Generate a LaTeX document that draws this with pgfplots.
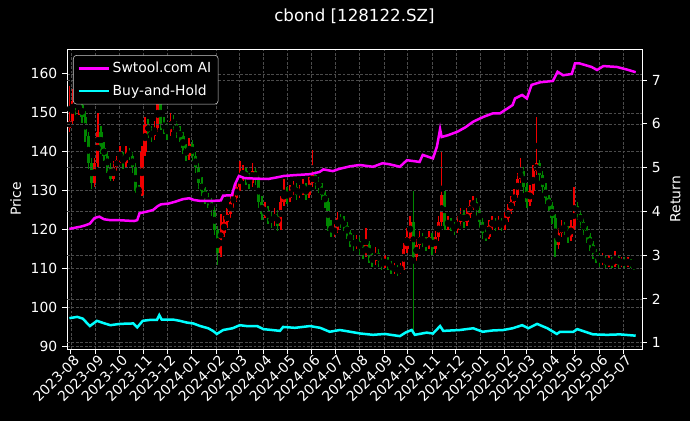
\documentclass[border=0pt]{standalone}
\usepackage{pgfplots}
\usepackage{pgfplotstable}
\pgfplotsset{compat=1.18}
\usepackage{fontspec}
\setmainfont{DejaVu Sans}
\definecolor{upred}{RGB}{240,0,0}
\definecolor{dngreen}{RGB}{0,135,0}
\definecolor{gridc}{RGB}{75,75,75}
\definecolor{mag}{RGB}{255,0,255}
\definecolor{cya}{RGB}{0,255,255}
\pgfplotstableread{
d o h l c
-2 146 157 145 148
2 148 156 147 153
6 153 155 149.5 151
10 151 153.5 149.5 152
14 152 153 147.5 149
18 149 150.5 142.5 144
22 144 145 135.5 137
26 137 138.5 130.5 132
30 132 138.5 131 137
34 137 150 136 145
38 145 146.5 139.5 141
42 141 142.5 137.5 139
46 139 140 134.5 136
50 136 137 132.5 133
54 133 137.5 132.5 136
58 136 139 135 138
62 138 141.5 137 139
66 139 140 135.5 137
70 137 141.5 136 140
74 140 141 138 139
78 139 140 134.5 136
82 136 137 129.5 130
86 130 131.5 129 129
90 129 141.5 128.5 140
94 140 149 139 147
98 147 148.5 143.5 145
102 145 146.5 142.5 144
106 144 148 143 146
110 146 155 145 153
114 153 154 145.5 147
118 147 149 144.5 146
122 146 147.5 143 145
126 145 150 144 148
130 148 149.5 145.5 147
134 147 148 143.5 145
138 145 146.5 142.5 144
142 144 145 139.5 141
146 141 142 137.5 139
150 139 143.5 138 142
154 142 143 137.5 139
158 139 140 134.5 136
162 136 137 130.5 132
166 132 133.5 128.5 130
170 130 131 126.5 128
174 128 129.5 125.5 127
178 127 128 123.5 125
182 125 126 118.5 120
186 120 121 111 114
190 114 124 113 119
194 119 123.5 118 122
198 122 125.5 120.5 124
202 124 128.5 123 127
206 127 130 125.5 128
210 128 132.5 127 131
214 131 137.5 130 134
218 134 136.5 132.5 135
222 135 136 131.5 133
226 133 134.5 130.5 132
230 132 137 131 135
234 135 136 131.5 133
238 133 134 125.5 127
242 127 128.5 122.5 124
246 124 127 123 125
250 125 126 121.5 123
254 123 124.5 120.5 122
258 122 125.5 121 124
262 124 125 119.5 121
266 121 128.5 120 127
270 127 133 126 130
274 130 131 126.5 128
278 128 131.5 127 130
282 130 132.5 129 131
286 131 132 127.5 129
290 129 131.5 128 130
294 130 133 129 131
298 131 132 127.5 129
302 129 133.5 128 132
306 132 140.5 131 134
310 134 135 130.5 132
314 132 133.5 129.5 131
318 131 132 127.5 129
322 129 130 125.5 127
326 127 128 119.5 121
330 121 122.5 118 119
334 119 121.5 118 120
338 120 124.5 119 123
342 123 124 120.5 122
346 122 123.5 119.5 121
350 121 122 117.5 119
354 119 120 115.5 117
358 117 118.5 114.5 116
362 116 118.5 115 117
366 117 118 113.5 115
370 115 116 112.5 114
374 114 120.5 113 116
378 116 117 111.5 113
382 113 114 110.5 112
386 112 115.5 111 114
390 114 115 110.5 112
394 112 113 109.5 111
398 111 113.5 110 112
402 112 113 109.5 111
406 111 112 108.5 110
410 110 111.5 108.5 110
414 110 111 108 109
418 109 111.5 108.5 110
422 110 116.5 109.5 115
426 115 120.5 114 118
430 118 123.5 117 122
434 122 130 94 113
438 113 117.5 112 116
442 116 119.5 115 118
446 118 119 115.5 117
450 117 118 114.5 116
454 116 119.5 115 118
458 118 119 113.5 115
462 115 119.5 114 118
466 118 123.5 117 122
470 122 140 121 129
474 129 130 120 121
478 121 123.5 120 122
482 122 123 119.5 121
486 121 122 118.5 120
490 120 123.5 119 122
494 122 125.5 121 124
498 124 125 120.5 122
502 122 125.5 121 124
506 124 127.5 123 126
510 126 128.5 125 127
514 127 128 123.5 125
518 125 126 120.5 122
522 122 123 117.5 119
526 119 120 117 118
530 118 122.5 117.5 121
534 121 123.5 120 122
538 122 123 119.5 121
542 121 123.5 120 122
546 122 123 119.5 121
550 121 124.5 120 123
554 123 126.5 122 125
558 125 128.5 124 127
562 127 130.5 126 129
566 129 134.5 128 133
570 133 138.5 132 135
574 135 136 129.5 131
578 131 132 125.5 127
582 127 131.5 126 130
586 130 136.5 129 135
590 135 149 134 137
594 137 138 132.5 134
598 134 135 129.5 131
602 131 132 126.5 128
606 128 129 124.5 126
610 126 127 121.5 123
614 123 124 113 116
618 116 120.5 115 119
622 119 122.5 118 121
626 121 122 118.5 120
630 120 121 116.5 118
634 118 122.5 117 121
638 121 131 120 126
642 126 127 122.5 124
646 124 125 120.5 122
650 122 123 118.5 120
654 120 121 116.5 118
658 118 119 114.5 116
662 116 117 112.5 114
666 114 115 111.5 113
670 113 114 110.5 112
674 112 114 111 112.5
678 112.5 113.5 110 111
682 111 113.5 110.5 112
686 112 113 110 111
690 111 114.5 110.5 113
694 113 113.5 110 111
698 111 113 110.5 112
702 112 113 110 111
706 111 113 110.5 112
710 112 112.5 110 111
714 111 111.5 109.5 110.5
}\candles
\pgfplotstableread{
d r
-2 3.60
6 3.63
12 3.65
18 3.68
24 3.72
30 3.85
36 3.88
42 3.82
50 3.80
60 3.80
70 3.79
80 3.78
84 3.80
87 3.96
95 3.99
104 4.03
110 4.12
114 4.16
124 4.18
132 4.22
142 4.28
150 4.30
156 4.26
164 4.24
180 4.24
190 4.25
193 4.36
204 4.37
208 4.62
213 4.81
220 4.76
232 4.75
250 4.74
262 4.78
270 4.81
285 4.83
303 4.85
315 4.90
320 4.96
332 4.92
340 4.97
354 5.03
366 5.06
383 5.02
395 5.10
403 5.08
417 5.02
426 5.17
442 5.13
446 5.29
459 5.21
464 5.48
468 5.88
470 5.70
478 5.74
490 5.82
500 5.92
510 6.05
523 6.16
535 6.24
544 6.24
560 6.43
563 6.58
572 6.66
578 6.58
584 6.89
595 6.95
611 6.98
617 7.19
624 7.11
635 7.14
639 7.38
645 7.38
660 7.30
667 7.23
675 7.32
692 7.30
705 7.24
716 7.18
}\swtool
\pgfplotstableread{
d r
-2 1.56
8 1.59
15 1.55
24 1.38
33 1.50
41 1.45
50 1.40
62 1.43
79 1.44
84 1.35
91 1.50
100 1.52
109 1.52
112 1.63
115 1.53
129 1.53
138 1.50
147 1.46
155 1.44
164 1.38
174 1.33
180 1.27
185 1.20
193 1.29
205 1.33
214 1.40
223 1.38
236 1.38
244 1.31
255 1.29
265 1.27
269 1.36
284 1.34
303 1.38
316 1.34
328 1.25
341 1.29
354 1.25
367 1.21
383 1.18
398 1.20
417 1.15
425 1.24
432 1.29
436 1.18
451 1.23
459 1.21
468 1.38
472 1.27
493 1.29
510 1.33
522 1.25
535 1.28
548 1.29
560 1.33
572 1.40
580 1.33
591 1.43
604 1.33
616 1.20
620 1.25
637 1.25
642 1.31
662 1.19
680 1.18
696 1.19
716 1.16
}\bnh
\begin{document}
\begin{tikzpicture}
\fill[black] (0,0) rectangle (496.8pt,303.12pt);
\pgfplotsset{
  common/.style={
    scale only axis, width=414pt, height=216pt,
    at={(48.24pt,51.84pt)}, anchor=south west,
    xmin=-5, xmax=724,
    axis line style={white, line width=0.7pt},
    tick style={white, line width=0.7pt},
    major tick length=3.5pt, tick align=outside,
    tick label style={text=white},
    label style={text=white},
    grid style={gridc, dash pattern=on 2pt off 1.2pt, line width=0.45pt},
    /pgf/number format/assume math mode=true,
  }
}
\begin{axis}[common,
  ymin=89.3, ymax=166.4,
  ytick={90,100,110,120,130,140,150,160},
  xtick={0,31,61,92,122,153,184,213,244,274,305,335,366,397,427,458,488,519,550,578,609,639,670,700},
  xticklabels={2023-08,2023-09,2023-10,2023-11,2023-12,2024-01,2024-02,2024-03,2024-04,2024-05,2024-06,2024-07,2024-08,2024-09,2024-10,2024-11,2024-12,2025-01,2025-02,2025-03,2025-04,2025-05,2025-06,2025-07},
  xticklabel style={rotate=45, anchor=north east, inner sep=1pt, xshift=2pt},
  xtick pos=left, ytick pos=left,
  xmajorgrids, ymajorgrids,
  ylabel={Price},
]
% wicks
\addplot[only marks, mark=none, forget plot,
  restrict expr to domain={\thisrow{c}-\thisrow{o}}{0:1000},
  error bars/.cd, y dir=both, y explicit, error mark=none,
  error bar style={draw=upred, line width=1.1pt}]
  table[x=d, y expr={(\thisrow{h}+\thisrow{l})/2}, y error expr={(\thisrow{h}-\thisrow{l})/2}]{\candles};
\addplot[only marks, mark=none, forget plot,
  restrict expr to domain={\thisrow{c}-\thisrow{o}}{-1000:-0.001},
  error bars/.cd, y dir=both, y explicit, error mark=none,
  error bar style={draw=dngreen, line width=1.1pt}]
  table[x=d, y expr={(\thisrow{h}+\thisrow{l})/2}, y error expr={(\thisrow{h}-\thisrow{l})/2}]{\candles};
% bodies
\addplot[only marks, mark=none, forget plot,
  restrict expr to domain={\thisrow{c}-\thisrow{o}}{0:1000},
  error bars/.cd, y dir=both, y explicit, error mark=none,
  error bar style={draw=upred, line width=2.3pt}]
  table[x=d, y expr={(\thisrow{o}+\thisrow{c})/2}, y error expr={abs(\thisrow{c}-\thisrow{o})/2}]{\candles};
\addplot[only marks, mark=none, forget plot,
  restrict expr to domain={\thisrow{c}-\thisrow{o}}{-1000:-0.001},
  error bars/.cd, y dir=both, y explicit, error mark=none,
  error bar style={draw=dngreen, line width=2.3pt}]
  table[x=d, y expr={(\thisrow{o}+\thisrow{c})/2}, y error expr={abs(\thisrow{c}-\thisrow{o})/2}]{\candles};
\end{axis}
\begin{axis}[common,
  ymin=0.856, ymax=7.71,
  ytick={1,2,3,4,5,6,7},
  axis x line=none,
  axis y line*=right,
  ymajorgrids,
  ylabel={Return},
  legend style={at={(0.0104,0.98)}, anchor=north west, fill=black, draw=white!80!black,
    rounded corners=2.5pt, text=white, font=\normalsize, inner xsep=3pt, inner ysep=3pt,
    row sep=3pt, cells={anchor=west}},
  legend image code/.code={\draw[#1] (0pt,0pt) -- (21.6pt,0pt);},
]
\addplot[color=mag, line width=1.8pt] table[x=d, y=r]{\swtool};
\addlegendentry{Swtool.com AI}
\addplot[color=cya, line width=1.8pt] table[x=d, y=r]{\bnh};
\addlegendentry{Buy-and-Hold}
\end{axis}
\node[text=white, font=\fontsize{12}{14}\selectfont] at (255.2pt,291.6pt) {cbond [128122.SZ]};
\pgfresetboundingbox
\path[use as bounding box] (0,0) rectangle (496.8pt,303.12pt);
\end{tikzpicture}
\end{document}
